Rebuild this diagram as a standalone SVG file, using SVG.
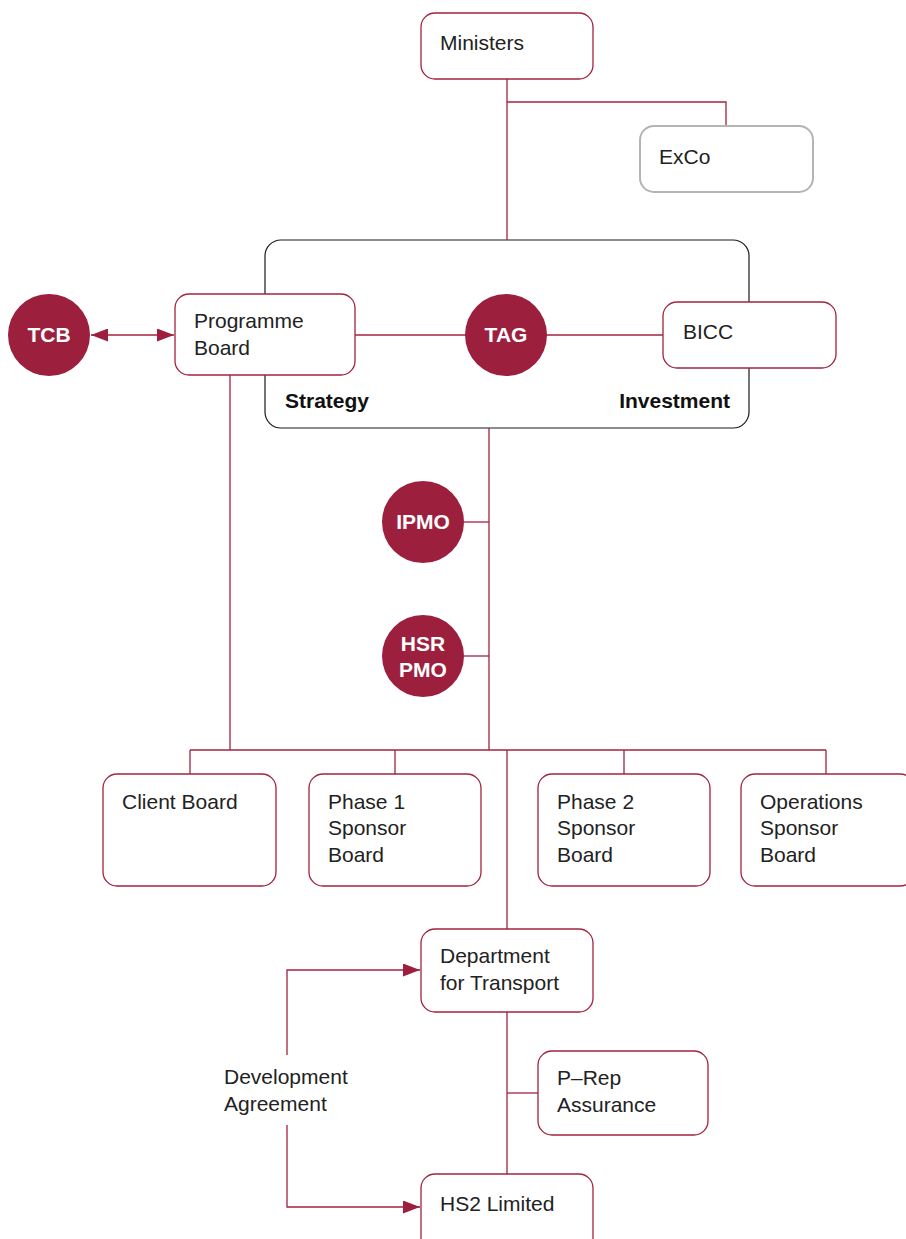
<svg xmlns="http://www.w3.org/2000/svg" width="906" height="1239" viewBox="0 0 906 1239">
<style>
.box{fill:#fff;stroke:#a3233f;stroke-width:1.3}
.grey{fill:#fff;stroke:#b4b4b4;stroke-width:2}
.frame{fill:#fff;stroke:#1a1a1a;stroke-width:1.2}
.circ{fill:#9c1f3e}
.t{font-family:"Liberation Sans",Arial,sans-serif;font-size:21px;fill:#222}
.ct{font-family:"Liberation Sans",Arial,sans-serif;font-size:21px;font-weight:bold;fill:#fff;text-anchor:middle}
.b{font-family:"Liberation Sans",Arial,sans-serif;font-size:21px;font-weight:bold;fill:#111}
.ln{fill:none;stroke:#a3233f;stroke-width:1.3}
</style>
<defs>
<marker id="ah" viewBox="0 0 10 10" refX="10" refY="5" markerWidth="17" markerHeight="13" preserveAspectRatio="none" markerUnits="userSpaceOnUse" orient="auto-start-reverse">
<path d="M0,0 L10,5 L0,10 Z" fill="#9c1f3e"/>
</marker>
</defs>
<g id="strategy-investment">
<rect class="frame" x="265" y="240" width="484" height="188" rx="16"/>
<text class="b" x="285" y="408">Strategy</text>
<text class="b" x="730" y="408" text-anchor="end">Investment</text>
</g>
<g id="connectors">
<path class="ln" d="M507,79 V240"/>
<path class="ln" d="M507,102 H726 V126"/>
<path class="ln" d="M355,335 H663"/>
<path class="ln" d="M91,335 H174" marker-start="url(#ah)" marker-end="url(#ah)"/>
<path class="ln" d="M230,375 V750"/>
<path class="ln" d="M489,428 V750"/>
<path class="ln" d="M464,522 H489"/>
<path class="ln" d="M464,656 H489"/>
<path class="ln" d="M190,750 H826"/>
<path class="ln" d="M190,750 V774"/>
<path class="ln" d="M395,750 V774"/>
<path class="ln" d="M624,750 V774"/>
<path class="ln" d="M826,750 V774"/>
<path class="ln" d="M507,750 V929"/>
<path class="ln" d="M507,1012 V1174"/>
<path class="ln" d="M507,1093 H538"/>
<path class="ln" d="M287,1055 V970 H420" marker-end="url(#ah)"/>
<path class="ln" d="M287,1125 V1207 H420" marker-end="url(#ah)"/>
</g>
<g id="ministers">
<rect class="box" x="421" y="13" width="172" height="66" rx="14"/>
<text class="t" x="440" y="50">Ministers</text>
</g>
<g id="exco">
<rect class="grey" x="640" y="126" width="173" height="66" rx="14"/>
<text class="t" x="659" y="164">ExCo</text>
</g>
<g id="programme-board">
<rect class="box" x="175" y="294" width="180" height="81" rx="14"/>
<text class="t" x="194" y="328">Programme</text>
<text class="t" x="194" y="355">Board</text>
</g>
<g id="bicc">
<rect class="box" x="663" y="302" width="173" height="66" rx="14"/>
<text class="t" x="683" y="339">BICC</text>
</g>
<g id="tcb">
<circle class="circ" cx="49" cy="335" r="41"/>
<text class="ct" x="49" y="342">TCB</text>
</g>
<g id="tag">
<circle class="circ" cx="506" cy="335" r="41"/>
<text class="ct" x="506" y="342">TAG</text>
</g>
<g id="ipmo">
<circle class="circ" cx="423" cy="522" r="41"/>
<text class="ct" x="423" y="529">IPMO</text>
</g>
<g id="hsr-pmo">
<circle class="circ" cx="423" cy="656" r="41"/>
<text class="ct" x="423" y="651">HSR</text>
<text class="ct" x="423" y="677">PMO</text>
</g>
<g id="client-board">
<rect class="box" x="103" y="774" width="173" height="112" rx="14"/>
<text class="t" x="122" y="809">Client Board</text>
</g>
<g id="phase1">
<rect class="box" x="309" y="774" width="172" height="112" rx="14"/>
<text class="t" x="328" y="809">Phase 1</text>
<text class="t" x="328" y="835">Sponsor</text>
<text class="t" x="328" y="862">Board</text>
</g>
<g id="phase2">
<rect class="box" x="538" y="774" width="172" height="112" rx="14"/>
<text class="t" x="557" y="809">Phase 2</text>
<text class="t" x="557" y="835">Sponsor</text>
<text class="t" x="557" y="862">Board</text>
</g>
<g id="operations">
<rect class="box" x="741" y="774" width="173" height="112" rx="14"/>
<text class="t" x="760" y="809">Operations</text>
<text class="t" x="760" y="835">Sponsor</text>
<text class="t" x="760" y="862">Board</text>
</g>
<g id="dft">
<rect class="box" x="421" y="929" width="172" height="83" rx="14"/>
<text class="t" x="440" y="963">Department</text>
<text class="t" x="440" y="990">for Transport</text>
</g>
<g id="prep">
<rect class="box" x="538" y="1051" width="170" height="84" rx="14"/>
<text class="t" x="557" y="1085">P–Rep</text>
<text class="t" x="557" y="1112">Assurance</text>
</g>
<g id="hs2">
<rect class="box" x="421" y="1174" width="172" height="80" rx="14"/>
<text class="t" x="440" y="1211">HS2 Limited</text>
</g>
<g id="dev-agreement">
<text class="t" x="224" y="1084">Development</text>
<text class="t" x="224" y="1111">Agreement</text>
</g>
</svg>
